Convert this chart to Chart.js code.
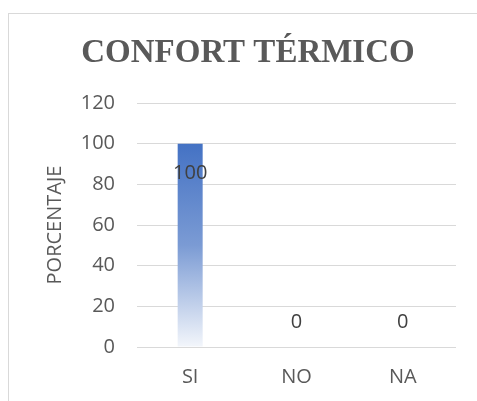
<!DOCTYPE html>
<html>
<head>
<meta charset="utf-8">
<script src="https://cdn.jsdelivr.net/npm/chart.js@4"></script>
<style>
  html, body { margin: 0; padding: 0; background: #fff; overflow: hidden; }
  #wrap { position: relative; width: 477px; height: 401px; }
  #frame { position: absolute; left: 8px; top: 13px; width: 480px; height: 400px; border: 1px solid #d9d9d9; box-sizing: border-box; }
  canvas { position: absolute; left: 0; top: 0; }
</style>
</head>
<body>
<div id="wrap">
  <div id="frame"></div>
  <canvas id="chart" width="477" height="401"></canvas>
</div>
<script>
        // Chart data
        const categories = ['SI', 'NO', 'NA'];
        const percentages = [100, 0, 0];
        const yTicks = [0, 20, 40, 60, 80, 100, 120];
        const chartTitle = 'CONFORT TÉRMICO';

        // Blue-to-white gradient for the bars
        function barGradient(context) {
            const chart = context.chart;
            const area = chart.chartArea;
            if (!area) return '#4472c4';
            const y = chart.scales.y;
            const g = chart.ctx.createLinearGradient(0, y.getPixelForValue(100), 0, y.getPixelForValue(0));
            g.addColorStop(0, '#4472c4');
            g.addColorStop(0.5, '#7b9bd4');
            g.addColorStop(1, '#f3f6fb');
            return g;
        }

        // Title and data labels
        const overlay = {
            id: 'overlay',
            afterDatasetsDraw(chart) {
                const ctx = chart.ctx;
                const meta = chart.getDatasetMeta(0);
                ctx.save();
                ctx.textAlign = 'center';
                ctx.textBaseline = 'middle';

                ctx.font = 'bold 33px "Liberation Serif"';
                ctx.fillStyle = '#595959';
                ctx.fillText(chartTitle, 248, 53);

                ctx.font = '20px "Open Sans"';
                ctx.fillStyle = '#404040';
                meta.data.forEach((bar, i) => {
                    const v = percentages[i];
                    const y = v > 0 ? bar.y + 30 : bar.y - 25;
                    ctx.fillText(String(v), bar.x, y);
                });
                ctx.restore();
            }
        };

        window.onload = function() {
            const ctx = document.getElementById('chart').getContext('2d');
            new Chart(ctx, {
                type: 'bar',
                data: {
                    labels: categories,
                    datasets: [{
                        data: percentages,
                        backgroundColor: barGradient,
                        borderWidth: 0,
                        categoryPercentage: 1,
                        barPercentage: 0.235
                    }]
                },
                options: {
                    responsive: false,
                    animation: false,
                    layout: { padding: { left: 0, right: 21, top: 103, bottom: 0 } },
                    scales: {
                        x: {
                            grid: { display: false },
                            border: { display: false },
                            ticks: { color: '#595959', font: { family: 'Open Sans', size: 20 }, padding: 10 },
                            afterFit(scale) { scale.height = 54; }
                        },
                        y: {
                            min: 0,
                            max: 120,
                            afterBuildTicks(scale) { scale.ticks = yTicks.map(v => ({ value: v })); },
                            grid: { color: '#d9d9d9', lineWidth: 1, drawTicks: false },
                            border: { display: false },
                            ticks: { color: '#595959', font: { family: 'Open Sans', size: 20 }, padding: 22 },
                            title: {
                                display: true,
                                text: 'PORCENTAJE',
                                color: '#595959',
                                font: { family: 'Open Sans', size: 20 },
                                padding: { top: 43, bottom: 0 }
                            },
                            afterFit(scale) { scale.width = 137; }
                        }
                    },
                    plugins: {
                        legend: { display: false },
                        tooltip: { enabled: false },
                        title: { display: false }
                    }
                },
                plugins: [overlay]
            });
        };
</script>
</body>
</html>
